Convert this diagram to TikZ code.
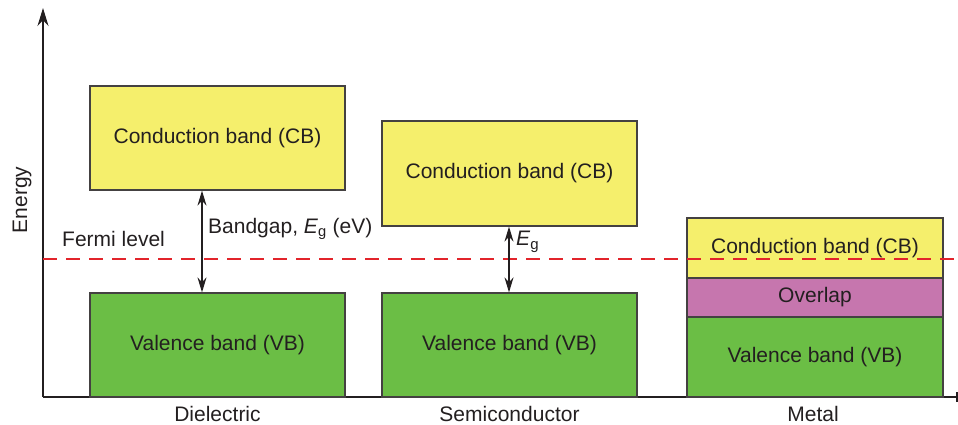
\documentclass[tikz,border=0pt]{standalone}
\usepackage{fontspec}
\setmainfont{Liberation Sans}
\usetikzlibrary{arrows.meta}
\definecolor{cbyellow}{HTML}{F5EF6C}
\definecolor{vbgreen}{HTML}{6BBE45}
\definecolor{ovpurple}{HTML}{C676AE}
\definecolor{ink}{HTML}{231F20}
\definecolor{fermired}{RGB}{226,36,43}
\begin{document}
\begin{tikzpicture}[x=1pt,y=-1pt,
  band/.style={draw=ink!85, line width=1.2pt, minimum width=255pt, inner sep=0pt, text=ink, font=\fontsize{21}{24}\selectfont},
  cbbox/.style={band, fill=cbyellow},
  vbbox/.style={band, fill=vbgreen},
  ovbox/.style={band, fill=ovpurple},
  lbl/.style={text=ink, font=\fontsize{21}{24}\selectfont, inner sep=0pt},
  axisline/.style={draw=ink, line width=1.3pt},
  gaparrow/.style={draw=ink, line width=1.3pt, {Stealth[length=15pt,width=9pt]}-{Stealth[length=15pt,width=9pt]}},
  fermi/.style={color=fermired, line width=1.2pt, dash pattern=on 14pt off 9pt}
]
\useasboundingbox (0,0) rectangle (958,424);
% axes
\coordinate (O) at (43,397);
\coordinate (ytop) at (43,8);
\coordinate (xend) at (957,397);
\draw[axisline, -{Stealth[length=18pt,width=11pt]}] (O) -- (ytop);
\draw[axisline] (O) -- (xend);
\draw[axisline] (xend) ++(0,-5) -- ++(0,10);
% Fermi level
\coordinate (fl) at (43,259);
\coordinate (fr) at (958,259);
% Dielectric
\node[cbbox, minimum height=104pt] (dcb) at (217.5,138) {Conduction band (CB)};
\node[vbbox, minimum height=104pt] (dvb) at (217.5,345) {Valence band (VB)};
% Semiconductor
\node[cbbox, minimum height=105pt] (scb) at (509.5,173.5) {Conduction band (CB)};
\node[vbbox, minimum height=104pt] (svb) at (509.5,345) {Valence band (VB)};
% Metal
\node[cbbox, minimum width=256pt, minimum height=60pt] (mcb) at (815,248) {Conduction band (CB)};
\node[ovbox, minimum width=256pt, minimum height=39pt] (mov) at (815,297.5) {Overlap};
\node[vbbox, minimum width=256pt, minimum height=80pt] (mvb) at (815,357) {Valence band (VB)};
\draw[fermi] (fl) -- (fr);
% gap arrows
\draw[gaparrow] (dcb.south -| 202,0) -- (dvb.north -| 202,0);
\draw[gaparrow] (scb.south -| 509,0) -- (svb.north -| 509,0);
% labels
\node[lbl, anchor=west] (bg) at (208,229) {Bandgap, \textit{E}\textsubscript{g} (eV)};
\node[lbl, anchor=west] (eg) at (516,242) {\textit{E}\raisebox{-0.35ex}{\fontsize{15}{17}\selectfont g}};
\node[lbl, anchor=west] (fermilbl) at (62,239) {Fermi level};
\node[lbl, rotate=90] (energy) at (22,200) {Energy};
\node[lbl] (dl) at (217.5,414) {Dielectric};
\node[lbl] (sl) at (509.5,414) {Semiconductor};
\node[lbl] (ml) at (813,414) {Metal};
\end{tikzpicture}
\end{document}
